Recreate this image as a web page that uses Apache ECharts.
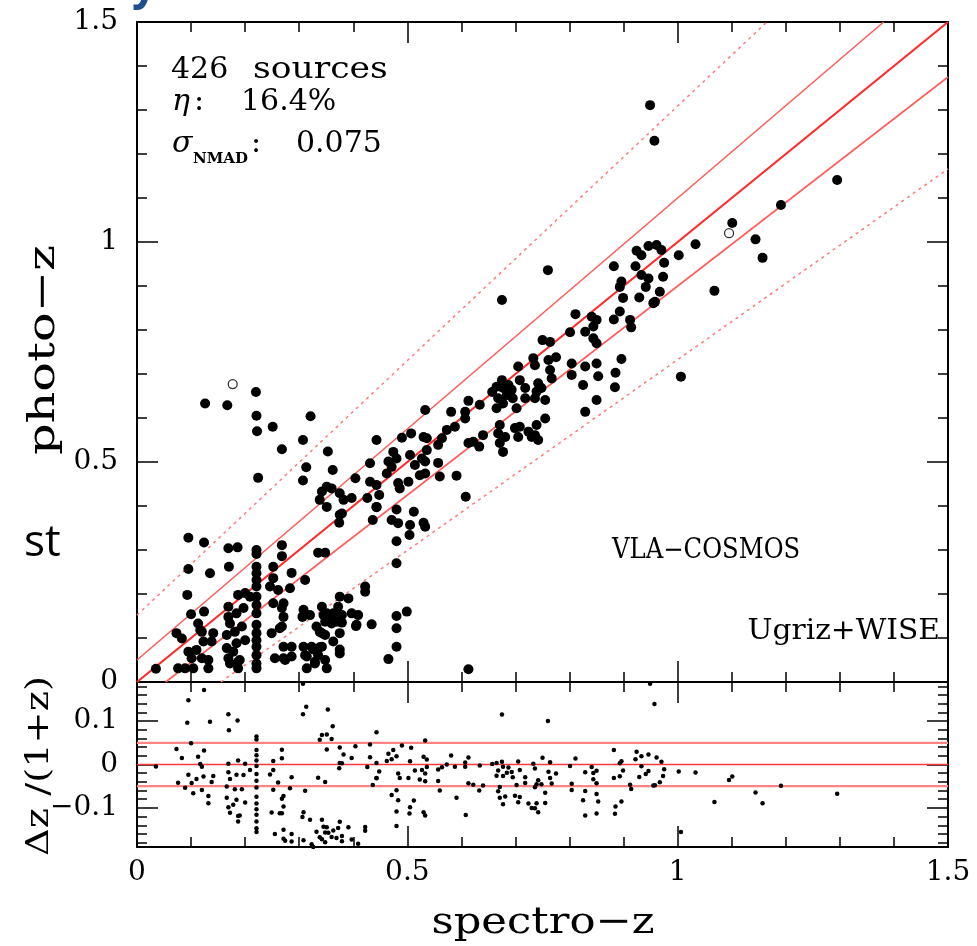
<!DOCTYPE html>
<html>
<head>
<meta charset="utf-8">
<script src="https://cdn.jsdelivr.net/npm/echarts@6/dist/echarts.min.js"></script>
<style>
  html, body { margin: 0; padding: 0; background: #fff; }
  #chart { width: 977px; height: 946px; }
</style>
</head>
<body>
<div id="chart"></div>
<script>
// spectroscopic redshift of each source (x) and its photometric redshift (y), same order
var specZ = [
  0.035, 0.076, 0.089, 0.104, 0.132, 0.073, 0.083, 0.095, 0.110, 0.101,
  0.120, 0.132, 0.113, 0.120, 0.138, 0.123, 0.100, 0.124, 0.093, 0.095,
  0.095, 0.124, 0.135, 0.141, 0.117, 0.169, 0.186, 0.170, 0.169, 0.169,
  0.172, 0.166, 0.166, 0.169, 0.172, 0.187, 0.187, 0.187, 0.200, 0.184,
  0.197, 0.181, 0.194, 0.200, 0.184, 0.178, 0.190, 0.209, 0.221, 0.221,
  0.221, 0.221, 0.221, 0.221, 0.221, 0.221, 0.221, 0.221, 0.221, 0.221,
  0.221, 0.221, 0.221, 0.221, 0.246, 0.252, 0.252, 0.261, 0.252, 0.268,
  0.271, 0.249, 0.268, 0.271, 0.286, 0.255, 0.271, 0.286, 0.268, 0.268,
  0.286, 0.283, 0.271, 0.264, 0.274, 0.311, 0.308, 0.306, 0.320, 0.308,
  0.311, 0.314, 0.329, 0.323, 0.335, 0.348, 0.342, 0.345, 0.332, 0.342,
  0.354, 0.363, 0.360, 0.375, 0.372, 0.379, 0.375, 0.363, 0.342, 0.335,
  0.351, 0.348, 0.375, 0.391, 0.397, 0.409, 0.406, 0.434, 0.422, 0.422,
  0.465, 0.480, 0.480, 0.480, 0.480, 0.499, 0.613, 0.326, 0.338, 0.375,
  0.314, 0.329, 0.351, 0.369, 0.348, 0.338, 0.348, 0.379, 0.405, 0.480,
  0.471, 0.483, 0.480, 0.505, 0.504, 0.512, 0.530, 0.533, 0.436, 0.443,
  0.375, 0.374, 0.126, 0.167, 0.220, 0.221, 0.222, 0.251, 0.321, 0.268,
  0.307, 0.224, 0.313, 0.307, 0.353, 0.362, 0.342, 0.351, 0.360, 0.375,
  0.338, 0.351, 0.382, 0.397, 0.404, 0.379, 0.431, 0.443, 0.426, 0.431,
  0.443, 0.448, 0.443, 0.465, 0.462, 0.471, 0.474, 0.480, 0.490, 0.507,
  0.505, 0.483, 0.486, 0.502, 0.533, 0.530, 0.536, 0.514, 0.536, 0.527,
  0.533, 0.523, 0.533, 0.557, 0.557, 0.564, 0.573, 0.581, 0.588, 0.560,
  0.591, 0.675, 0.811, 0.841, 0.850, 0.882, 0.893, 0.912, 0.914, 0.829,
  0.844, 0.801, 0.844, 0.850, 0.955, 0.750, 0.764, 0.775, 0.761, 0.764,
  0.767, 0.733, 0.736, 0.705, 0.804, 0.804, 0.829, 0.850, 0.853, 0.896,
  0.885, 0.884, 0.825, 0.850, 0.829, 1.006, 0.675, 0.665, 0.677, 0.687,
  0.693, 0.708, 0.684, 0.668, 0.665, 0.677, 0.702, 0.718, 0.736, 0.755,
  0.742, 0.748, 0.739, 0.634, 0.613, 0.607, 0.607, 0.640, 0.755, 0.671,
  0.668, 0.681, 0.671, 0.677, 0.699, 0.708, 0.705, 0.724, 0.739, 0.736,
  0.742, 0.730, 0.613, 0.622, 0.633, 0.608, 1.295, 1.191, 1.101, 1.144,
  1.157, 1.068, 1.033, 1.002, 0.882, 0.924, 0.933, 0.946, 0.961, 0.970,
  0.975, 0.922, 0.933, 0.946, 0.973, 0.941, 0.929, 0.967, 0.958,
  0.896, 0.893, 0.899, 0.949, 0.957, 0.760, 0.657, 0.695, 0.718
];
var photoZ = [
  0.030, 0.031, 0.031, 0.031, 0.031, 0.111, 0.099, 0.069, 0.073, 0.054,
  0.054, 0.050, 0.133, 0.114, 0.092, 0.092, 0.154, 0.160, 0.198, 0.257,
  0.328, 0.317, 0.247, 0.111, 0.118, 0.304, 0.306, 0.262, 0.171, 0.148,
  0.133, 0.107, 0.077, 0.054, 0.042, 0.031, 0.046, 0.198, 0.202, 0.156,
  0.168, 0.114, 0.126, 0.095, 0.088, 0.069, 0.050, 0.194, 0.300, 0.291,
  0.262, 0.247, 0.232, 0.217, 0.194, 0.175, 0.156, 0.130, 0.111, 0.095,
  0.080, 0.061, 0.042, 0.031, 0.217, 0.236, 0.262, 0.209, 0.179, 0.168,
  0.148, 0.111, 0.126, 0.080, 0.080, 0.054, 0.054, 0.058, 0.311, 0.286,
  0.248, 0.213, 0.179, 0.122, 0.050, 0.232, 0.164, 0.148, 0.152, 0.080,
  0.061, 0.031, 0.046, 0.080, 0.294, 0.294, 0.171, 0.152, 0.126, 0.111,
  0.141, 0.156, 0.133, 0.194, 0.171, 0.152, 0.111, 0.092, 0.080, 0.061,
  0.031, 0.050, 0.065, 0.190, 0.156, 0.152, 0.130, 0.131, 0.217, 0.205,
  0.052, 0.270, 0.150, 0.122, 0.080, 0.160, 0.029, 0.074, 0.079, 0.074,
  0.058, 0.042, 0.156, 0.137, 0.137, 0.114, 0.107, 0.135, 0.127, 0.320,
  0.368, 0.361, 0.392, 0.357, 0.334, 0.387, 0.362, 0.353, 0.368, 0.397,
  0.380, 0.362, 0.633, 0.629, 0.659, 0.605, 0.570, 0.580, 0.604, 0.529,
  0.550, 0.464, 0.488, 0.458, 0.524, 0.482, 0.433, 0.444, 0.440, 0.429,
  0.414, 0.398, 0.414, 0.418, 0.463, 0.383, 0.497, 0.550, 0.418, 0.455,
  0.448, 0.425, 0.398, 0.501, 0.474, 0.489, 0.523, 0.508, 0.555, 0.565,
  0.516, 0.452, 0.440, 0.455, 0.618, 0.557, 0.554, 0.493, 0.527, 0.508,
  0.501, 0.470, 0.474, 0.539, 0.498, 0.554, 0.573, 0.614, 0.580, 0.467,
  0.469, 0.868, 0.836, 0.830, 0.823, 0.824, 0.842, 0.823, 0.806, 0.796,
  0.808, 0.795, 0.781, 0.770, 0.861, 0.777, 0.773, 0.738, 0.732, 0.709,
  0.690, 0.736, 0.720, 0.717, 0.724, 0.698, 0.717, 0.724, 0.695, 0.734,
  0.703, 0.670, 0.675, 0.641, 0.614, 0.694, 0.686, 0.671, 0.668, 0.675,
  0.664, 0.686, 0.652, 0.645, 0.622, 0.633, 0.622, 0.645, 0.645, 0.641,
  0.679, 0.668, 0.660, 0.630, 0.639, 0.614, 0.599, 0.561, 0.599, 0.584,
  0.565, 0.557, 0.543, 0.523, 0.577, 0.580, 0.557, 0.569, 0.584, 0.561,
  0.550, 0.557, 0.543, 0.546, 0.535, 0.421, 1.141, 1.084, 1.043, 1.006,
  0.964, 0.889, 0.995, 0.970, 0.945, 0.980, 0.970, 0.991, 0.993, 0.982,
  0.953, 0.945, 0.925, 0.917, 0.921, 0.898, 0.874, 0.887, 0.864,
  0.910, 0.898, 0.873, 1.311, 1.230, 0.936, 0.659, 0.645, 0.668
];
// the two open circles
var openSpecZ = [0.177, 1.095];
var openPhotoZ = [0.677, 1.020];

// reference lines in the upper panel, end points
var oneToOne = [[0, 0], [1.5, 1.5]];
var innerUpper = [[0, 0.05], [1.381, 1.5]];
var innerLower = [[0.053, 0], [1.5, 1.375]];
var outerUpper = [[0, 0.152], [1.165, 1.5]];
var outerLower = [[0.155, 0], [1.5, 1.166]];
// horizontal levels in the lower panel
var residLevels = [0.05, 0, -0.05];

var xTicks = [0, 0.5, 1, 1.5];

var mainPoints = [];
var residPoints = [];
for (var i = 0; i < specZ.length; i++) {
  mainPoints.push([specZ[i], photoZ[i]]);
  residPoints.push([specZ[i], (photoZ[i] - specZ[i]) / (1 + specZ[i])]);
}
var openPoints = [];
for (var j = 0; j < openSpecZ.length; j++) {
  openPoints.push([openSpecZ[j], openPhotoZ[j]]);
  residPoints.push([openSpecZ[j], (openPhotoZ[j] - openSpecZ[j]) / (1 + openSpecZ[j])]);
}

var serif = '"DejaVu Serif", "Liberation Serif", serif';
var black = { color: '#000', width: 1.5 };

function frame(gridIndex, position, extra) {
  var ax = {
    gridIndex: gridIndex,
    type: 'value',
    position: position,
    axisLine: { show: true, onZero: false, lineStyle: { color: '#000', width: 2 } },
    axisTick: { show: true, inside: true, length: 21, lineStyle: black },
    minorTick: { show: true, splitNumber: 5, length: 10, lineStyle: black },
    axisLabel: { show: false },
    splitLine: { show: false },
    minorSplitLine: { show: false }
  };
  for (var k in extra) ax[k] = extra[k];
  return ax;
}

var labelStyle = { show: true, fontFamily: serif, fontSize: 28, color: '#000' };

var xAxes = [
  frame(0, 'bottom', { min: 0, max: 1.5, interval: 0.5 }),
  frame(0, 'top', { min: 0, max: 1.5, interval: 0.5 }),
  frame(1, 'bottom', {
    min: 0, max: 1.5, interval: 0.5,
    axisLabel: Object.assign({}, labelStyle, {
      margin: 12,
      formatter: function (v) { return xTicks.indexOf(v) >= 0 ? String(v) : ''; }
    })
  }),
  frame(1, 'top', { min: 0, max: 1.5, interval: 0.5 })
];

var yAxes = [
  frame(0, 'left', {
    min: 0, max: 1.5, interval: 0.5,
    axisLabel: Object.assign({}, labelStyle, { margin: 19 })
  }),
  frame(0, 'right', { min: 0, max: 1.5, interval: 0.5 }),
  frame(1, 'left', {
    min: -0.19, max: 0.19, splitNumber: 4,
    axisLabel: Object.assign({}, labelStyle, {
      margin: 19, showMinLabel: false, showMaxLabel: false,
      formatter: function (v) { return String(v).replace('-', '\u2212'); }
    })
  }),
  frame(1, 'right', { min: -0.19, max: 0.19, splitNumber: 4 })
];

function refLine(data, color, width, type) {
  return {
    type: 'line', xAxisIndex: 0, yAxisIndex: 0, data: data,
    symbol: 'none', silent: true, clip: true, z: 2,
    lineStyle: { color: color, width: width, type: type || 'solid', opacity: 1 }
  };
}

var series = [
  refLine(outerUpper, '#ff7b7b', 1.5, [3, 4]),
  refLine(outerLower, '#ff7b7b', 1.5, [3, 4]),
  refLine(innerUpper, '#ff5c5c', 1.6),
  refLine(innerLower, '#ff5c5c', 1.6),
  refLine(oneToOne, '#ff2b2b', 2.2),
  {
    type: 'scatter', xAxisIndex: 0, yAxisIndex: 0, data: mainPoints,
    symbol: 'circle', symbolSize: 10, clip: true, z: 4,
    itemStyle: { color: '#000', opacity: 1 }
  },
  {
    type: 'scatter', xAxisIndex: 0, yAxisIndex: 0, data: openPoints,
    symbol: 'circle', symbolSize: 9, clip: true, z: 4,
    itemStyle: { color: '#fff', borderColor: '#333', borderWidth: 1.3, opacity: 1 }
  }
];

residLevels.forEach(function (lv) {
  series.push({
    type: 'line', xAxisIndex: 2, yAxisIndex: 2,
    data: [[0, lv], [1.5, lv]], symbol: 'none', silent: true, z: 2,
    lineStyle: { color: lv === 0 ? '#ff3a3a' : '#ff8585', width: lv === 0 ? 1.6 : 2.2 }
  });
});
series.push({
  type: 'scatter', xAxisIndex: 2, yAxisIndex: 2, data: residPoints,
  symbol: 'circle', symbolSize: 4.5, clip: true, z: 4,
  itemStyle: { color: '#000', opacity: 1 }
});

function txt(text, x, y, font, extra) {
  var el = {
    type: 'text', x: x, y: y, silent: true, z: 10,
    style: { text: text, font: font, fill: '#000', align: 'left', verticalAlign: 'middle' }
  };
  if (extra) {
    for (var k in extra) {
      if (k === 'align') el.style.align = extra[k];
      else if (k === 'fill') el.style.fill = extra[k];
      else el[k] = extra[k];
    }
  }
  return el;
}

var graphics = [
  txt('y', 132, -14, 'bold 44px "Noto Sans"', { fill: '#1f4f8f' }),
  txt('st', 24, 543, '44px "Open Sans", "Noto Sans", sans-serif'),
  txt('426', 171, 70, '30px ' + serif),
  txt('sources', 253, 70, '30px ' + serif, { scaleX: 1.15 }),
  txt('\u03b7', 172, 102, 'italic 30px ' + serif),
  txt(':', 194, 102, '30px ' + serif),
  txt('16.4%', 241, 102, '30px ' + serif),
  txt('\u03c3', 172, 144, 'italic 30px ' + serif),
  txt('NMAD', 193, 159, 'bold 15px ' + serif),
  txt(':', 251, 144, '30px ' + serif),
  txt('0.075', 296, 144, '30px ' + serif),
  txt('VLA\u2212COSMOS', 612, 551, '27px ' + serif, { scaleX: 0.9 }),
  txt('Ugriz+WISE', 940, 632, '27px ' + serif, { align: 'right', scaleX: 1.1 }),
  txt('photo\u2212z', 44, 350, '38px ' + serif, { align: 'center', rotation: Math.PI / 2, scaleX: 1.3 }),
  txt('spectro\u2212z', 543, 923, '38px ' + serif, { align: 'center', scaleX: 1.14 }),
  txt('\u0394z /(1+z)', 40, 766, '32px ' + serif, { align: 'center', rotation: Math.PI / 2, scaleX: 1.2 })
];

var chart = echarts.init(document.getElementById('chart'), null, { renderer: 'canvas' });
chart.setOption({
  animation: false,
  backgroundColor: '#fff',
  grid: [
    { left: 137, top: 22, width: 811, height: 660, containLabel: false },
    { left: 137, top: 682, width: 811, height: 165, containLabel: false }
  ],
  xAxis: xAxes,
  yAxis: yAxes,
  series: series,
  graphic: graphics
});
</script>
</body>
</html>
